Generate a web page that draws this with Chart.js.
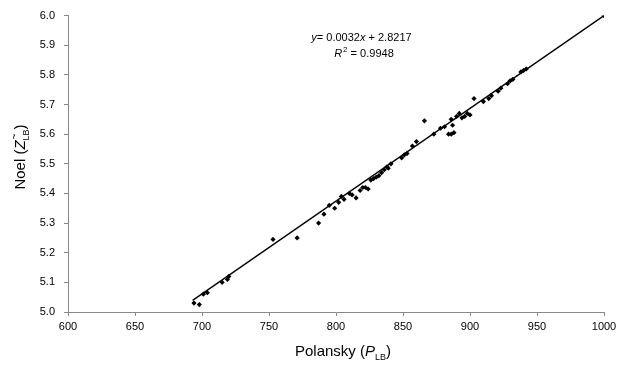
<!DOCTYPE html>
<html>
<head>
<meta charset="utf-8">
<script src="https://cdn.jsdelivr.net/npm/chart.js@4/dist/chart.umd.min.js"></script>
<style>
html,body{margin:0;padding:0;background:#fff;}
#wrap{width:621px;height:371px;position:relative;}
</style>
</head>
<body>
<div id="wrap"><canvas id="c" width="621" height="371"></canvas></div>
<script>
const polansky = [694,698,701,704,715,719,720,753,771,787,791,795,799,802,804,806,810,812,815,818,820,822,824,826,828,830,832,834,836,838,839,841,849,851,853,857,860,866,873,878,881,884,886,888,886,887,890,892,894,896,898,900,903,910,914,916,921,923,928,930,932,938,940,942,1000];
const noel = [5.03,5.025,5.06,5.065,5.10,5.11,5.12,5.245,5.25,5.30,5.33,5.36,5.35,5.37,5.39,5.38,5.40,5.395,5.385,5.41,5.42,5.42,5.415,5.445,5.45,5.455,5.46,5.47,5.48,5.49,5.485,5.50,5.52,5.53,5.535,5.56,5.575,5.645,5.60,5.62,5.625,5.60,5.60,5.605,5.65,5.63,5.66,5.67,5.655,5.66,5.67,5.665,5.72,5.71,5.72,5.73,5.745,5.755,5.77,5.78,5.785,5.81,5.815,5.82,6.00];
const trendX = [693,1000];
const trendY = [5.0393,6.0];
const xTicks = [600,650,700,750,800,850,900,950,1000];
const yTicks = [5.0,5.1,5.2,5.3,5.4,5.5,5.6,5.7,5.8,5.9,6.0];

const FONT = "'Liberation Sans', Arial, sans-serif";

const labelPlugin = {
  id: 'labels',
  afterDraw(chart) {
    const ctx = chart.ctx;
    const xs = chart.scales.x, ys = chart.scales.y;
    ctx.save();
    ctx.fillStyle = '#000';
    ctx.textBaseline = 'alphabetic';
    // equation
    const cx = xs.getPixelForValue(819);
    let y1 = ys.getPixelForValue(5.915);
    const parts = [['italic 11px '+FONT,'y'],['11px '+FONT,'= 0.0032'],['italic 11px '+FONT,'x'],['11px '+FONT,' + 2.8217']];
    let w = 0;
    parts.forEach(p=>{ctx.font=p[0]; w+=ctx.measureText(p[1]).width;});
    let x = cx - w/2;
    parts.forEach(p=>{ctx.font=p[0]; ctx.textAlign='left'; ctx.fillText(p[1],x,y1); x+=ctx.measureText(p[1]).width;});
    let y2 = ys.getPixelForValue(5.86);
    ctx.font = 'italic 11px '+FONT; const wR = ctx.measureText('R').width;
    ctx.font = '8px '+FONT; const w2 = ctx.measureText('2').width;
    ctx.font = '11px '+FONT; const wRest = ctx.measureText(' = 0.9948').width;
    x = cx - (wR+w2+wRest)/2 + 2;
    ctx.font = 'italic 11px '+FONT; ctx.fillText('R', x, y2); x += wR+1;
    ctx.font = '8px '+FONT; ctx.fillText('2', x, y2-5); x += w2;
    ctx.font = '11px '+FONT; ctx.fillText(' = 0.9948', x, y2);

    // x title: Polansky (P_LB)
    const xm = (chart.chartArea.left + chart.chartArea.right)/2;
    const yb = 356;
    const xp = [['15px '+FONT,'Polansky ('],['italic 15px '+FONT,'P'],['9px '+FONT,'LB'],['15px '+FONT,')']];
    w = 0; xp.forEach(p=>{ctx.font=p[0]; w+=ctx.measureText(p[1]).width;});
    x = xm - w/2 + 7;
    xp.forEach(p=>{ctx.font=p[0]; const dy = p[1]==='LB'?4:0; ctx.fillText(p[1],x,yb+dy); x+=ctx.measureText(p[1]).width;});

    // y title: Noel (Z~_LB)
    const ymid = 157;
    ctx.translate(25, ymid);
    ctx.rotate(-Math.PI/2);
    const yp = [['15px '+FONT,'Noel ('],['italic 15px '+FONT,'Z'],['9px '+FONT,'LB'],['15px '+FONT,')']];
    w = 0; yp.forEach(p=>{ctx.font=p[0]; w+=ctx.measureText(p[1]).width;});
    x = -w/2;
    yp.forEach(p=>{
      ctx.font=p[0];
      if (p[1]==='LB') {
        ctx.fillText('LB', x, 4);
        ctx.font='10px '+FONT; ctx.fillText('~', x+1, -7);
      } else ctx.fillText(p[1],x,0);
      ctx.font=p[0];
      x+=ctx.measureText(p[1]).width;
    });
    ctx.restore();
  }
};

new Chart(document.getElementById('c'), {
  type: 'scatter',
  data: {
    datasets: [
      {
        data: polansky.map((v,i)=>({x:v,y:noel[i]})),
        pointStyle: 'rectRot',
        pointRadius: 2.6,
        backgroundColor: '#000',
        borderColor: '#000',
        borderWidth: 0,
        order: 1
      },
      {
        type: 'line',
        data: trendX.map((v,i)=>({x:v,y:trendY[i]})),
        borderColor: '#000',
        borderWidth: 1.3,
        pointRadius: 0,
        fill: false,
        order: 2
      }
    ]
  },
  options: {
    responsive: false,
    animation: false,
    devicePixelRatio: 1,
    layout: { padding: { left: 0, right: 17, top: 15, bottom: 0 } },
    plugins: { legend: { display: false }, tooltip: { enabled: false } },
    scales: {
      x: {
        type: 'linear', min: 600, max: 1000,
        afterBuildTicks: s => { s.ticks = xTicks.map(v=>({value:v})); },
        afterFit: s => { s.height = 59; },
        grid: { drawOnChartArea: false, drawTicks: true, tickLength: 4, color: '#888' },
        border: { color: '#888', width: 1 },
        ticks: { color: '#000', font: { family: FONT, size: 11 }, padding: 4, maxRotation: 0, callback: v => String(v) }
      },
      y: {
        type: 'linear', min: 5.0, max: 6.0,
        afterBuildTicks: s => { s.ticks = yTicks.map(v=>({value:v})); },
        afterFit: s => { s.width = 68; },
        grid: { drawOnChartArea: false, drawTicks: true, tickLength: 4, color: '#888' },
        border: { color: '#888', width: 1 },
        ticks: { color: '#000', font: { family: FONT, size: 11 }, padding: 9, callback: v => v.toFixed(1) }
      }
    }
  },
  plugins: [labelPlugin]
});
</script>
</body>
</html>
